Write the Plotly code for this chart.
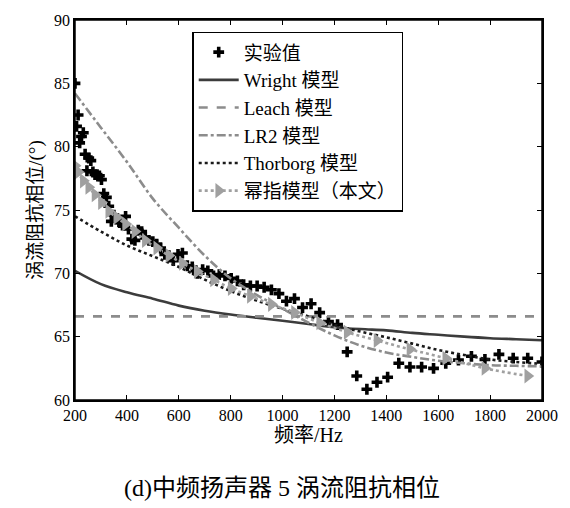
import plotly.graph_objects as go

# Experimental data (frequency Hz, phase deg)
exp_f = [200, 206, 212, 218, 225, 232, 239, 246, 253, 261, 269, 277, 285, 294, 302, 311, 321, 330,
         340, 350, 361, 372, 383, 395, 406, 419, 431, 444, 457, 471, 485, 500, 515, 530, 546, 562,
         579, 597, 614, 633, 652, 671, 692, 712, 734, 756, 778, 802, 826, 850, 876, 902, 929, 957,
         986, 1015, 1046, 1077, 1110, 1143, 1177, 1212, 1249, 1286, 1325, 1364, 1405, 1448, 1491,
         1536, 1582, 1629, 1678, 1728, 1780, 1834, 1889, 1945, 2000]
exp_v = [85.0, 81.6, 82.5, 80.3, 80.8, 81.1, 79.4, 78.1, 79.1, 78.9, 78.0, 77.8, 77.8, 77.7, 77.4, 76.3, 76.0, 75.3,
         74.1, 74.6, 74.3, 74.0, 73.8, 74.5, 73.5, 72.7, 72.6, 73.4, 73.3, 72.8, 72.6, 72.5, 72.3, 72.0, 71.5, 71.4,
         71.0, 71.5, 71.6, 70.6, 70.5, 70.0, 70.3, 70.2, 69.8, 69.9, 69.8, 69.6, 69.4, 69.1, 69.0, 69.0, 68.9, 68.7,
         68.4, 67.8, 68.0, 67.3, 67.6, 66.9, 66.2, 65.95, 63.8, 61.9, 60.85, 61.4, 61.8, 62.9, 62.6,
         62.6, 62.5, 62.9, 63.15, 63.45, 63.2, 63.6, 63.3, 63.3, 63.0]

model_f = [200, 300, 400, 500, 600, 700, 800, 900, 1000, 1100, 1200, 1300, 1400, 1500, 1600,
           1700, 1800, 1900, 2000]
wright_v = [70.2, 69.15, 68.5, 68.0, 67.45, 67.05, 66.75, 66.5, 66.25, 66.0, 65.75, 65.6, 65.5, 65.3,
            65.15, 65.0, 64.88, 64.8, 64.72]
leach_f = [200, 2000]
leach_v = [66.6, 66.6]
lr2_v = [84.2, 81.5, 78.8, 75.9, 73.6, 71.4, 69.6, 68.3, 67.2, 66.1, 65.1, 64.3, 63.75, 63.4, 63.1,
         62.9, 62.75, 62.7, 62.65]
thor_v = [74.5, 73.3, 72.2, 71.35, 70.5, 69.5, 68.6, 67.85, 67.2, 66.6, 65.95, 65.4, 64.95, 64.45,
          63.95, 63.55, 63.2, 63.0, 62.85]

pow_f = [200, 212, 232, 253, 277, 302, 330, 361, 395, 431, 471, 515, 562, 614, 671, 734, 802, 876,
         957, 1046, 1143, 1249, 1364, 1491, 1629, 1780, 1945]
pow_v = [78.5, 78.0, 77.3, 76.8, 76.2, 75.6, 74.9, 74.4, 73.9, 73.3, 72.6, 72.0, 71.4, 70.8, 70.15,
         69.5, 68.8, 68.2, 67.55, 66.9, 66.1, 65.35, 64.7, 64.0, 63.3, 62.5, 61.9]

x_ticks = [200, 400, 600, 800, 1000, 1200, 1400, 1600, 1800, 2000]
y_ticks = [60, 65, 70, 75, 80, 85, 90]

serif = "Liberation Serif, Times New Roman, Noto Sans CJK SC, serif"

fig = go.Figure()
fig.add_trace(go.Scatter(x=exp_f, y=exp_v, mode="markers", name="实验值",
                         marker=dict(symbol="cross", size=9, color="black")))
fig.add_trace(go.Scatter(x=model_f, y=wright_v, mode="lines", name="Wright 模型", line_shape="spline",
                         line=dict(color="#3c3c3c", width=2.6)))
fig.add_trace(go.Scatter(x=leach_f, y=leach_v, mode="lines", name="Leach 模型",
                         line=dict(color="#8c8c8c", width=2.6, dash="dash")))
fig.add_trace(go.Scatter(x=model_f, y=lr2_v, mode="lines", name="LR2 模型", line_shape="spline",
                         line=dict(color="#8c8c8c", width=2.6, dash="dashdot")))
fig.add_trace(go.Scatter(x=model_f, y=thor_v, mode="lines", name="Thorborg 模型", line_shape="spline",
                         line=dict(color="#1a1a1a", width=2.6, dash="dot")))
fig.add_trace(go.Scatter(x=pow_f, y=pow_v, mode="lines+markers", name="幂指模型（本文）", line_shape="spline",
                         line=dict(color="#a0a0a0", width=2.6, dash="dot"),
                         marker=dict(symbol="triangle-right", size=13, color="#a0a0a0")))

axis_common = dict(showline=True, linecolor="black", linewidth=1.5, mirror="ticks",
                   ticks="inside", ticklen=5, tickcolor="black", tickwidth=1.2,
                   showgrid=False, zeroline=False,
                   tickfont=dict(family=serif, size=16, color="black"))

fig.update_layout(
    width=570, height=508,
    margin=dict(l=75, r=25, t=13, b=108),
    paper_bgcolor="white", plot_bgcolor="white",
    xaxis=dict(range=[200, 2000], tickvals=x_ticks, ticktext=[str(v) for v in x_ticks],
               title=dict(text="频率/Hz", font=dict(family=serif, size=20, color="black"), standoff=4),
               **axis_common),
    yaxis=dict(range=[60, 90], tickvals=y_ticks, ticktext=[str(v) for v in y_ticks],
               title=dict(text="涡流阻抗相位/(°)", font=dict(family=serif, size=19, color="black"), standoff=6),
               **axis_common),
    legend=dict(x=0.251, y=0.969, xanchor="left", yanchor="top",
                bgcolor="white", bordercolor="black", borderwidth=1.5,
                font=dict(family=serif, size=19, color="black"),
                tracegroupgap=0, itemwidth=40),
    showlegend=True,
    shapes=[dict(type="rect", xref="paper", yref="paper", x0=0, y0=0, x1=1, y1=1,
                 line=dict(color="black", width=1.5), layer="above")],
    annotations=[dict(text="(d)中频扬声器 5 涡流阻抗相位", xref="paper", yref="paper",
                      x=0.443, y=-0.232, xanchor="center", yanchor="middle", showarrow=False,
                      font=dict(family=serif, size=24, color="black"))],
)

fig.write_html("out.html", config={"displayModeBar": False},
               post_script="document.body.style.margin='0';document.body.style.overflow='hidden';")
